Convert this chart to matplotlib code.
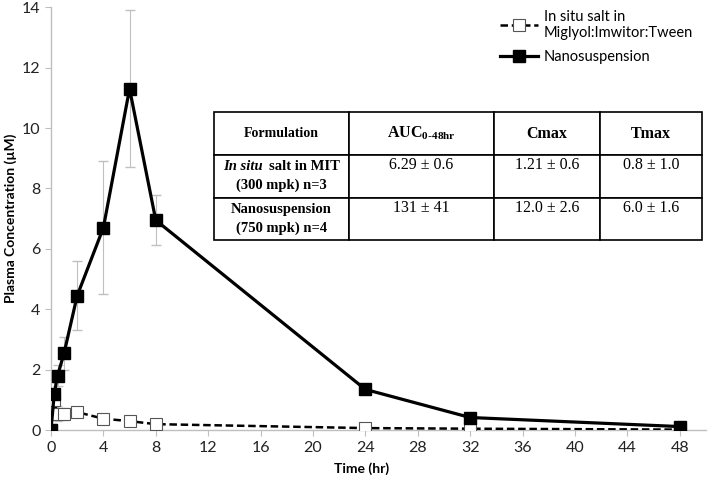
import matplotlib.pyplot as plt

# time points (hr)
time_nano = [0, 0.25, 0.5, 1, 2, 4, 6, 8, 24, 32, 48]
conc_nano = [0, 1.2, 1.8, 2.55, 4.45, 6.7, 11.3, 6.95, 1.35, 0.42, 0.12]
err_nano = [0, 0.4, 0.35, 0.55, 1.15, 2.2, 2.6, 0.83, 0.1, 0.05, 0.03]

time_salt = [0, 0.25, 0.5, 1, 2, 4, 6, 8, 24, 32, 48]
conc_salt = [0, 1.0, 0.55, 0.55, 0.6, 0.38, 0.3, 0.2, 0.07, 0.05, 0.02]
err_salt = [0, 0.15, 0.25, 0.2, 0.1, 0.08, 0.05, 0.04, 0.02, 0.02, 0.01]

x_ticks = list(range(0, 49, 4))
y_ticks = list(range(0, 15, 2))

table_cols = ["Formulation", r"AUC$_{\mathregular{0\text{-}48hr}}$", "Cmax", "Tmax"]
table_rows = [
    ["", "6.29 \u00b1 0.6\n", "1.21 \u00b1 0.6\n", "0.8 \u00b1 1.0\n"],
    ["Nanosuspension\n(750 mpk) n=4", "131 \u00b1 41\n", "12.0 \u00b1 2.6\n", "6.0 \u00b1 1.6\n"],
]

serif = ['Liberation Serif', 'DejaVu Serif']
plt.rcParams['font.family'] = ['Lato', 'DejaVu Sans']

fig = plt.figure(figsize=(7.08, 4.78), dpi=100)
ax = fig.add_axes([0.072, 0.1, 0.925, 0.885])

ax.errorbar(time_salt, conc_salt, yerr=err_salt, fmt='none', ecolor='#c0c0c0',
            elinewidth=0.8, capsize=3, zorder=2)
ax.errorbar(time_nano, conc_nano, yerr=err_nano, fmt='none', ecolor='#c0c0c0',
            elinewidth=0.8, capsize=3.5, zorder=2)
ax.plot(time_salt, conc_salt, color='black', linestyle=(0, (3, 1.5)), linewidth=1.8,
        marker='s', markersize=9, markerfacecolor='white', markeredgecolor='#555555',
        markeredgewidth=0.8, label="In situ salt in\nMiglyol:Imwitor:Tween", zorder=3)
ax.plot(time_nano, conc_nano, color='black', linewidth=2.3,
        marker='s', markersize=9, markerfacecolor='black', markeredgecolor='black',
        label="Nanosuspension", zorder=4)

ax.set_xlim(0, 50)
ax.set_ylim(0, 14)
ax.set_xticks(x_ticks)
ax.set_yticks(y_ticks)
for s in ['top', 'right']:
    ax.spines[s].set_visible(False)
for s in ['left', 'bottom']:
    ax.spines[s].set_color('#bfbfbf')
    ax.spines[s].set_linewidth(1.0)
ax.tick_params(axis='both', colors='#bfbfbf', labelcolor='#222222', labelsize=11.5,
               length=4, width=0.8)
ax.set_xlabel("Time (hr)", fontsize=10, fontweight='bold')
ax.xaxis.set_label_coords(0.475, -0.075)
ax.set_ylabel("Plasma Concentration (\u00b5M)", fontsize=10, fontweight='bold')
ax.yaxis.set_label_coords(-0.052, 0.5)

ax.legend(loc='upper right', bbox_to_anchor=(1.0, 1.025), frameon=False,
          fontsize=10.5, handlelength=2.6, labelspacing=0.7, handletextpad=0.4)

tbl = ax.table(cellText=table_rows, colLabels=table_cols,
               bbox=[(214 - 51) / 655, 1 - (240 - 7) / 423, (702 - 214) / 655, (240 - 112) / 423],
               colWidths=[135, 145, 106, 102], cellLoc='center', zorder=5)
tbl.auto_set_font_size(False)
for (r, c), cell in tbl.get_celld().items():
    cell.set_linewidth(1.2)
    cell.set_edgecolor('black')
    cell.set_facecolor('white')
    txt = cell.get_text()
    txt.set_family(serif)
    txt.set_fontsize(11.5)
    txt.set_linespacing(1.55)
    if r == 0:
        txt.set_fontweight('bold')
        if c == 0:
            txt.set_fontsize(10)
    elif c == 0:
        txt.set_fontweight('bold')
        txt.set_fontsize(10.5)

# first row label with italic "In situ", laid out like the Nanosuspension label below it
fig.canvas.draw()
renderer = fig.canvas.get_renderer()
inv = fig.transFigure.inverted()
ref = tbl[2, 0].get_text().get_window_extent(renderer)
nb = tbl[2, 0].get_window_extent(renderer)
bb = tbl[1, 0].get_window_extent(renderer)
(_, ry0), (_, ry1) = inv.transform([(ref.x0, ref.y0), (ref.x1, ref.y1)])
(_, ny0), (_, ny1) = inv.transform([(nb.x0, nb.y0), (nb.x1, nb.y1)])
(bx0, by0), (bx1, by1) = inv.transform([(bb.x0, bb.y0), (bb.x1, bb.y1)])
line1_y = by1 - (ny1 - ry1)
line2_y = by0 + (ry0 - ny0)
xc = (bx0 + bx1) / 2

t1 = fig.text(0, line1_y, "In situ", family=serif, fontsize=10.5, fontweight='bold',
              style='italic', va='top', ha='left', zorder=6)
t2 = fig.text(0, line1_y, "salt in MIT", family=serif, fontsize=10.5, fontweight='bold',
              va='top', ha='left', zorder=6)
w1 = t1.get_window_extent(renderer).width / fig.bbox.width
w2 = t2.get_window_extent(renderer).width / fig.bbox.width
gap = 6 / 708
start = xc - (w1 + gap + w2) / 2
t1.set_x(start)
t2.set_x(start + w1 + gap)
fig.text(xc, line2_y, "(300 mpk) n=3", family=serif, fontsize=10.5, fontweight='bold',
         va='bottom', ha='center', zorder=6)

fig.savefig("out.png", dpi=100)
